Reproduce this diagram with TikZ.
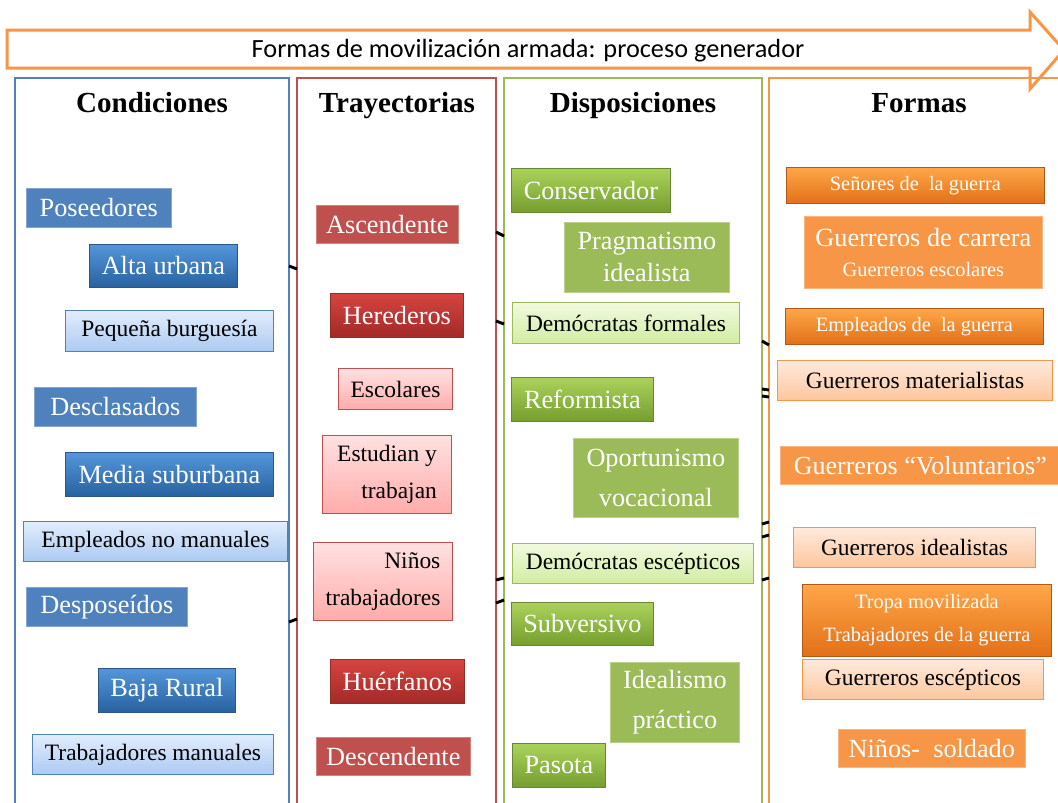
\documentclass[tikz,border=0pt]{standalone}
\usepackage{fontspec}
\setmainfont{Liberation Serif}
\newfontfamily\titlefont{Carlito}
\definecolor{bC}{RGB}{79,129,189}
\definecolor{rC}{RGB}{192,80,77}
\definecolor{gC}{RGB}{155,187,89}
\definecolor{oC}{RGB}{247,150,70}
\definecolor{bTop}{RGB}{84,150,218}\definecolor{bBot}{RGB}{40,98,160}\definecolor{bEdge}{RGB}{45,85,135}
\definecolor{bLa}{RGB}{226,237,252}\definecolor{bLb}{RGB}{172,202,242}
\definecolor{rTop}{RGB}{214,68,64}\definecolor{rBot}{RGB}{162,42,40}\definecolor{rEdge}{RGB}{150,45,42}
\definecolor{rLa}{RGB}{255,225,225}\definecolor{rLb}{RGB}{255,172,170}
\definecolor{gTop}{RGB}{170,210,90}\definecolor{gBot}{RGB}{118,158,48}\definecolor{gEdge}{RGB}{105,135,50}
\definecolor{gLa}{RGB}{241,250,224}\definecolor{gLb}{RGB}{210,236,162}
\definecolor{oTop}{RGB}{255,166,72}\definecolor{oBot}{RGB}{226,112,24}\definecolor{oEdge}{RGB}{176,88,22}
\definecolor{oLa}{RGB}{255,234,220}\definecolor{oLb}{RGB}{252,198,158}
\newcommand\fA{\fontsize{19.7}{24}\selectfont}
\newcommand\fB{\fontsize{17.6}{21}\selectfont}
\newcommand\fC{\fontsize{15.3}{18}\selectfont}
\newcommand\pbox[7]{\node[#1, anchor=north west, minimum width={(#5-#3)*0.75pt}, minimum height={(#6-#4)*0.75pt}, inner sep=0pt] (#2) at (#3,#4) {#7};}
\begin{document}
\begin{tikzpicture}[x=0.75pt,y=-0.75pt,
  colframe/.style={line width=1.6pt},
  hdr/.style={font=\fontsize{21.8}{26}\selectfont\bfseries, anchor=base},
  flatB/.style={fill=bC, draw=bC!70!white, line width=0.5pt, text=white, font=\fA},
  gradB/.style={top color=bTop, bottom color=bBot, draw=bEdge, line width=0.6pt, text=white, font=\fA},
  lightB/.style={top color=bLa, bottom color=bLb, draw=bC, line width=0.8pt, text=black, font=\fB},
  flatR/.style={fill=rC, draw=rC!70!white, line width=0.5pt, text=white, font=\fA},
  gradR/.style={top color=rTop, bottom color=rBot, draw=rEdge, line width=0.6pt, text=white, font=\fA},
  lightR/.style={top color=rLa, bottom color=rLb, draw=rC, line width=0.8pt, text=black, font=\fB},
  flatG/.style={fill=gC, draw=gC!70!white, line width=0.5pt, text=white, font=\fA},
  gradG/.style={top color=gTop, bottom color=gBot, draw=gEdge, line width=0.6pt, text=white, font=\fA},
  lightG/.style={top color=gLa, bottom color=gLb, draw=gC, line width=0.8pt, text=black, font=\fB},
  flatO/.style={fill=oC, draw=oC!70!white, line width=0.5pt, text=white, font=\fA},
  gradO/.style={top color=oTop, bottom color=oBot, draw=oEdge, line width=0.6pt, text=white, font=\fA},
  lightO/.style={top color=oLa, bottom color=oLb, draw=oC, line width=0.8pt, text=black, font=\fB},
  tick/.style={line width=2.2pt, black}
]
\clip (0,0) rectangle (1058,803);
\fill[white] (0,0) rectangle (1058,803);
% title arrow
\draw[oC, line width=2.25pt, fill=white] (7,30) -- (1030,30) -- (1030,12) -- (1064,50) -- (1030,89) -- (1030,68) -- (7,68) -- cycle;
\node[font=\titlefont\fontsize{19.7}{23}\selectfont, anchor=base] (title) at (528,57) {Formas de movilización armada: proceso generador};
% columns
\draw[colframe, draw=bC] (15,78) rectangle (289,830);
\draw[colframe, draw=rC] (297,78) rectangle (496,830);
\draw[colframe, draw=gC] (504,78) rectangle (762,830);
\draw[colframe, draw=oC] (769,78) rectangle (1080,830);
% headers
\node[hdr] (hC) at (152,112) {Condiciones};
\node[hdr] (hT) at (397,112) {Trayectorias};
\node[hdr] (hD) at (633,112) {Disposiciones};
\node[hdr] (hF) at (919,112) {Formas};
% Condiciones
\pbox{flatB}{pos}{26}{188}{171}{227}{Poseedores\hspace{6pt}}
\pbox{gradB}{alta}{89}{244}{237}{287}{Alta urbana}
\pbox{lightB}{peq}{65}{310}{273}{351}{Pequeña burguesía}
\pbox{flatB}{desc}{34}{387}{196}{426}{Desclasados\hspace{8pt}}
\pbox{gradB}{media}{65}{452}{273}{496}{Media suburbana}
\pbox{lightB}{empl}{23}{521}{287}{561}{Empleados no manuales}
\pbox{flatB}{desp}{26}{587}{187}{626}{Desposeídos\hspace{6pt}}
\pbox{gradB}{baja}{98}{668}{235}{712}{Baja Rural}
\pbox{lightB}{trab}{32}{734}{273}{774}{Trabajadores manuales}
% Trayectorias
\pbox{flatR}{asc}{316}{205}{458}{243}{Ascendente}
\pbox{gradR}{her}{330}{293}{463}{337}{Herederos}
\pbox{lightR}{esc}{338}{368}{452}{409}{Escolares}
\pbox{lightR, align=right, font=\fontsize{17.6}{27.5}\selectfont}{estu}{322}{435}{451}{513}{Estudian y\\trabajan}
\pbox{lightR, align=right, font=\fontsize{17.6}{27.5}\selectfont}{ninos}{313}{542}{452}{620}{Niños\\trabajadores}
\pbox{gradR}{huer}{330}{659}{464}{703}{Huérfanos}
\pbox{flatR}{desce}{316}{737}{470}{775}{Descendente}
% Disposiciones
\pbox{gradG}{cons}{511}{168}{670}{212}{Conservador}
\pbox{flatG, align=center, font=\fontsize{19.7}{24}\selectfont}{prag}{564}{222}{729}{292}{Pragmatismo\\idealista}
\pbox{lightG}{demf}{512}{302}{739}{343}{Demócratas formales}
\pbox{gradG}{refo}{511}{377}{653}{421}{Reformista}
\pbox{flatG, align=center, font=\fontsize{19.7}{30}\selectfont}{opor}{573}{438}{738}{517}{Oportunismo\\vocacional}
\pbox{lightG}{deme}{512}{543}{753}{583}{Demócratas escépticos}
\pbox{gradG}{subv}{511}{602}{653}{645}{Subversivo}
\pbox{flatG, align=center, font=\fontsize{19.7}{30.5}\selectfont}{ideal}{610}{662}{739}{742}{Idealismo\\práctico}
\pbox{gradG}{paso}{512}{743}{605}{787}{Pasota}
% Formas
\pbox{gradO, font=\fC}{seno}{786}{167}{1044}{203}{Señores de\ \ la guerra}
\pbox{flatO, align=center}{guec}{804}{216}{1042}{288}{Guerreros de carrera\\[-1pt]{\fC Guerreros escolares}}
\pbox{gradO, font=\fC}{empg}{785}{308}{1043}{344}{Empleados de\ \ la guerra}
\pbox{lightO}{guem}{777}{360}{1052}{400}{Guerreros materialistas}
\pbox{flatO, font=\fontsize{19.5}{23}\selectfont}{guev}{780}{446}{1060}{484}{Guerreros “Voluntarios”\hspace{6pt}}
\pbox{lightO}{guei}{793}{527}{1035}{567}{Guerreros idealistas}
\pbox{gradO, align=center, font=\fontsize{15.3}{24.5}\selectfont}{trop}{802}{584}{1051}{656}{Tropa movilizada\\Trabajadores de la guerra}
\pbox{lightO}{guee}{802}{659}{1043}{699}{Guerreros escépticos}
\pbox{flatO}{nino}{838}{729}{1025}{767}{Niños-\ \ soldado}
% connector stubs
\coordinate (a1) at (289,266); \coordinate (a2) at (297,269);
\coordinate (b1) at (289,622); \coordinate (b2) at (297,619);
\coordinate (c1) at (496,232); \coordinate (c2) at (504,236);
\coordinate (d1) at (496,321); \coordinate (d2) at (504,324);
\coordinate (e1) at (496,580); \coordinate (e2) at (504,578);
\coordinate (f1) at (496,603); \coordinate (f2) at (504,600);
\coordinate (g1) at (762,341); \coordinate (g2) at (769,345);
\coordinate (h1) at (762,389); \coordinate (h2) at (769,390);
\coordinate (i1) at (762,396); \coordinate (i2) at (769,397);
\coordinate (j1) at (762,524); \coordinate (j2) at (769,522);
\coordinate (k1) at (762,537); \coordinate (k2) at (769,535);
\coordinate (l1) at (762,580); \coordinate (l2) at (769,578);
\foreach \p in {a,b,c,d,e,f,g,h,i,j,k,l} {\draw[tick] (\p1) -- (\p2);}
\end{tikzpicture}
\end{document}
